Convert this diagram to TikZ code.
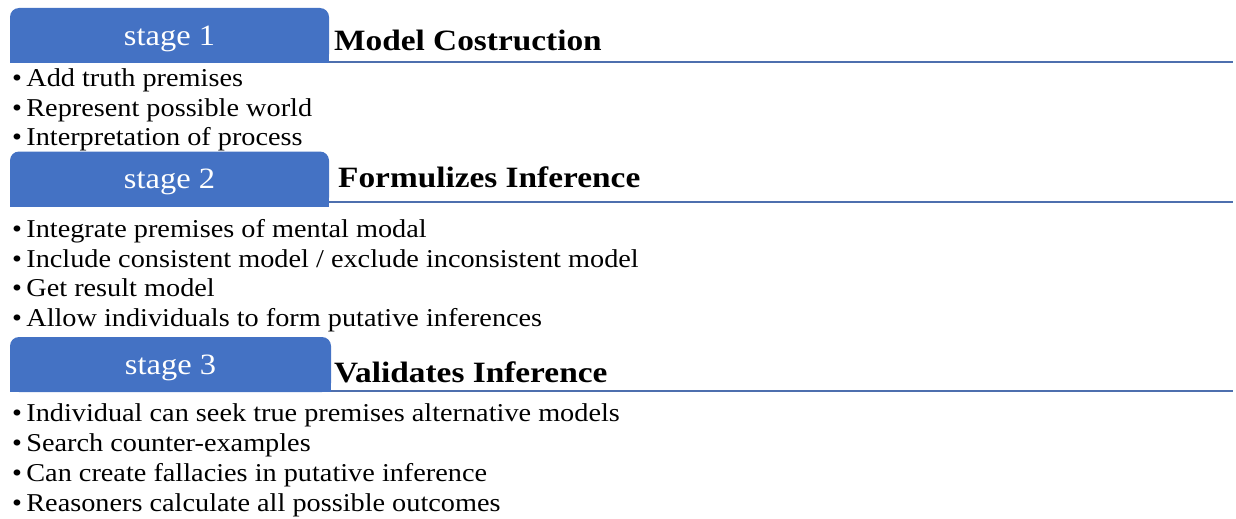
\documentclass[tikz,border=0pt]{standalone}
\usepackage{fontspec}
\setmainfont{Liberation Serif}[FakeStretch=1.1]
\newfontfamily\headfont{Liberation Serif}[FakeStretch=1.13]
\definecolor{tabblue}{HTML}{4472C4}
\definecolor{ruleblue}{HTML}{4E6FAE}
\usepackage{tikz}
\usetikzlibrary{positioning, backgrounds}

\begin{document}
\begin{tikzpicture}[x=1pt,y=-1pt,font=\fontsize{25.7}{30}\selectfont]

	\tikzset{stage tab/.style={fill=tabblue, rounded corners=9pt,
			minimum width=319pt, minimum height=55pt, inner sep=0pt,
			text=white, text depth=0pt,
			font=\fontsize{29.5}{32}\selectfont}}
	\tikzset{stage title/.style={anchor=base west, inner sep=0pt,
			font=\headfont\fontsize{29.5}{32}\selectfont\bfseries}}
	\tikzset{stage item/.style={anchor=base west, inner sep=0pt}}
	\tikzset{stage rule/.style={draw=ruleblue, line width=2pt}}

	\useasboundingbox (0,0) rectangle (1236,519);

	% tabs: rounded on top, square at the bottom
	\node[stage tab] (S1) at (169.5,35.5) {stage 1};
	\node[stage tab] (S2) at (169.5,179) {stage 2};
	\node[stage tab, minimum width=321pt] (S3) at (170.5,364.5) {stage 3};
	\begin{scope}[on background layer]
		\fill[tabblue] (S1.west) rectangle (S1.south east);
		\fill[tabblue] (S2.west) rectangle (S2.south east);
		\fill[tabblue] (S3.west) rectangle (S3.south east);
	\end{scope}

	\coordinate (E1) at (1233,62);
	\coordinate (E2) at (1233,202);
	\coordinate (E3) at (1233,391);
	\draw[stage rule] (S1.south east |- E1) -- (E1);
	\draw[stage rule] (S2.south east |- E2) -- (E2);
	\draw[stage rule] (S3.south east |- E3) -- (E3);

	\node[stage title] (T1) at (334,51) {Model Costruction};
	\node[stage title] (T2) at (338,187) {Formulizes Inference};
	\node[stage title] (T3) at (334,382) {Validates Inference};

	% bullet lists
	\foreach \txt [count=\i] in {Add truth premises,
			Represent possible world,
			Interpretation of process}
		\node[stage item] (A\i) at (12,57+29.5*\i) {\textbullet\,\txt};

	\foreach \txt [count=\i] in {Integrate premises of mental modal,
			Include consistent model / exclude inconsistent model,
			Get result model,
			Allow individuals to form putative inferences}
		\node[stage item] (B\i) at (12,208+29.5*\i) {\textbullet\,\txt};

	\foreach \txt [count=\i] in {Individual can seek true premises alternative models,
			Search counter-examples,
			Can create fallacies in putative inference,
			Reasoners calculate all possible outcomes}
		\node[stage item] (C\i) at (12,391+30*\i) {\textbullet\,\txt};
\end{tikzpicture}
\end{document}
